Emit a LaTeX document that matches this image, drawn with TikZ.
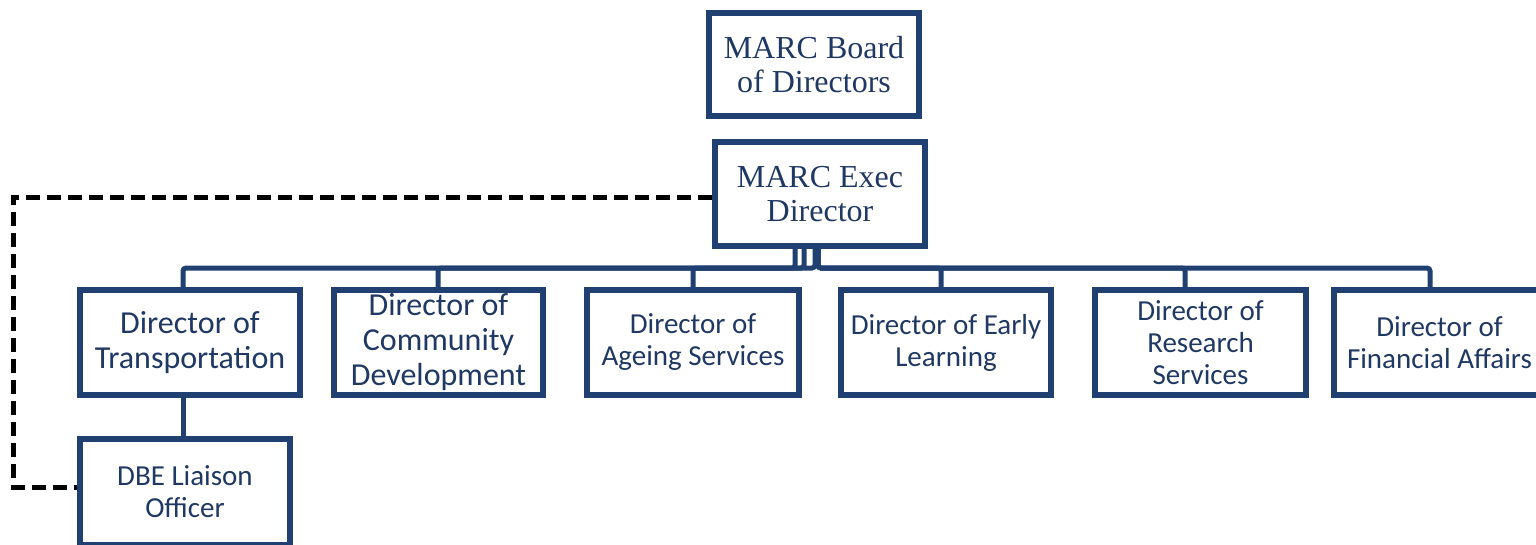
\documentclass[tikz,border=0pt]{standalone}
\usepackage{fontspec}
\setmainfont{Carlito}
\newfontfamily\serifface{Liberation Serif}
\definecolor{boxblue}{HTML}{1F4071}
\definecolor{txtblue}{HTML}{1F3864}
\begin{document}
\begin{tikzpicture}[x=1pt,y=-1pt,
  box/.style={draw=boxblue,line width=5.5pt,fill=white,text=txtblue,align=center,inner sep=0pt,minimum width=210pt,minimum height=105pt},
  conn/.style={draw=boxblue,line width=5pt,rounded corners=3pt},
  dashline/.style={draw=black,line width=5pt,dash pattern=on 14pt off 7pt},
  serbig/.style={font=\serifface\fontsize{32}{34}\selectfont},
  sbig/.style={font=\fontsize{32}{35}\selectfont},
  smid/.style={font=\fontsize{29}{32}\selectfont}]
\useasboundingbox (0,0) rectangle (1536,544);
\clip (0,0) rectangle (1536,544);
\fill[white] (0,0) rectangle (1536,544);
% nodes
\node[box,serbig,minimum height=103pt] (board) at (814,64.5) {MARC Board\\of Directors};
\node[box,serbig,minimum height=104pt] (exec) at (820,194) {MARC Exec\\Director};
\node[box,sbig,minimum width=220pt] (trans) at (190,342.5) {Director of\\Transportation};
\node[box,sbig,minimum width=209pt] (comm) at (438.5,342.5) {Director of\\Community\\Development};
\node[box,smid,minimum width=212pt] (age) at (693,342.5) {Director of\\Ageing Services};
\node[box,smid] (early) at (946,342.5) {Director of Early\\Learning};
\node[box,smid,minimum width=211pt] (res) at (1200.5,342.5) {Director of\\Research\\Services};
\node[box,smid,minimum width=211pt] (fin) at (1439.5,342.5) {Director of\\Financial Affairs};
\node[box,smid,minimum height=106pt] (dbe) at (185,492) {DBE Liaison\\Officer};
% connectors
\draw[conn] (795,0 |- exec.south) -- (795,268) -| (183,0 |- trans.north);
\draw[conn] (804,0 |- exec.south) -- (804,268) -| (438,0 |- comm.north);
\draw[conn] (815,0 |- exec.south) -- (815,268) -| (693,0 |- age.north);
\draw[conn] (818,0 |- exec.south) -- (818,268) -| (941,0 |- early.north);
\draw[conn] (818,0 |- exec.south) -- (818,268) -| (1185,0 |- res.north);
\draw[conn] (818,0 |- exec.south) -- (818,268) -| (1430,0 |- fin.north);
\draw[conn] (183,0 |- trans.south) -- (183,0 |- dbe.north);
\draw[dashline] (exec.west |- 0,197) -- (13,197) -- (13,487) -- (dbe.west |- 0,487);
\end{tikzpicture}
\end{document}
